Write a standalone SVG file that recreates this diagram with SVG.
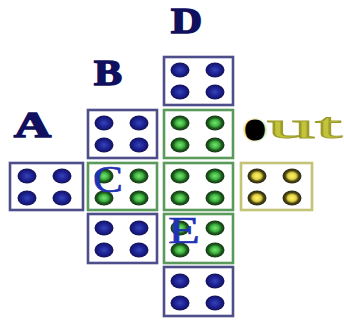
<svg xmlns="http://www.w3.org/2000/svg" xmlns:xlink="http://www.w3.org/1999/xlink" width="344" height="322" viewBox="0 0 344 322">
<style>
.box{fill:#fff;stroke-width:2.6}
.bb{stroke:#4e4e8a}
.gb{stroke:#5a9a5a}
.yb{stroke:#c4c478}
.big{font-family:"Liberation Serif",serif;font-weight:bold;font-size:36px;fill:#10105e;stroke:#10105e;stroke-width:1.6}
.lbl{font-family:"Liberation Serif",serif;font-size:37px;fill:#2232b4;stroke:#2232b4;stroke-width:0.5}
.out{font-family:"Liberation Serif",serif;font-size:36px;fill:#c4c43a;stroke:#9c9c2c;stroke-width:1}
</style>
<defs>
<radialGradient id="gBlue"><stop offset="0" stop-color="#3444b8"/><stop offset="0.6" stop-color="#1c2090"/><stop offset="1" stop-color="#121258"/></radialGradient>
<radialGradient id="gGreen"><stop offset="0" stop-color="#7ae07a"/><stop offset="0.45" stop-color="#3cb43c"/><stop offset="0.72" stop-color="#1e5a1e"/><stop offset="1" stop-color="#143614"/></radialGradient>
<radialGradient id="gYellow"><stop offset="0" stop-color="#fff46a"/><stop offset="0.45" stop-color="#e0d040"/><stop offset="0.72" stop-color="#4a4414"/><stop offset="1" stop-color="#2a2810"/></radialGradient>
<radialGradient id="gRim"><stop offset="0.7" stop-color="#d4d460"/><stop offset="1" stop-color="#d4d460" stop-opacity="0"/></radialGradient>
<g id="dBlue" fill="url(#gBlue)"><ellipse cx="16" cy="13" rx="9.5" ry="7.5"/><ellipse cx="51" cy="13" rx="9.5" ry="7.5"/><ellipse cx="16" cy="35" rx="9.5" ry="7.5"/><ellipse cx="51" cy="35" rx="9.5" ry="7.5"/></g>
<g id="dGreen" fill="url(#gGreen)"><ellipse cx="16" cy="13" rx="9.5" ry="7.5"/><ellipse cx="51" cy="13" rx="9.5" ry="7.5"/><ellipse cx="16" cy="35" rx="9.5" ry="7.5"/><ellipse cx="51" cy="35" rx="9.5" ry="7.5"/></g>
<g id="dYellow" fill="url(#gYellow)"><ellipse cx="16" cy="13" rx="9.5" ry="7.5"/><ellipse cx="51" cy="13" rx="9.5" ry="7.5"/><ellipse cx="16" cy="35" rx="9.5" ry="7.5"/><ellipse cx="51" cy="35" rx="9.5" ry="7.5"/></g>
</defs>
<rect width="344" height="322" fill="#fff"/>
<g id="box-top"><rect class="box bb" x="164" y="57" width="69" height="48"/><use href="#dBlue" x="164" y="57"/></g>
<g id="box-r2-left"><rect class="box bb" x="88" y="110" width="69" height="48"/><use href="#dBlue" x="88" y="110"/></g>
<g id="box-r2-mid"><rect class="box gb" x="164" y="110" width="69" height="48"/><use href="#dGreen" x="164" y="110"/></g>
<g id="box-r3-far"><rect class="box bb" x="10" y="163" width="73" height="47"/><use href="#dBlue" x="11" y="163"/></g>
<g id="box-r3-left"><rect class="box gb" x="88" y="163" width="69" height="47"/><use href="#dGreen" x="88" y="163"/></g>
<g id="box-r3-mid"><rect class="box gb" x="164" y="163" width="69" height="47"/><use href="#dGreen" x="164" y="163"/></g>
<g id="box-r3-right"><rect class="box yb" x="241" y="163" width="71" height="47"/><use href="#dYellow" x="241" y="163"/></g>
<g id="box-r4-left"><rect class="box bb" x="88" y="214" width="69" height="49"/><use href="#dBlue" x="88" y="215"/></g>
<g id="box-r4-mid"><rect class="box gb" x="164" y="214" width="69" height="49"/><use href="#dGreen" x="164" y="215"/></g>
<g id="box-bottom"><rect class="box bb" x="164" y="267" width="69" height="49"/><use href="#dBlue" x="164" y="268"/></g>
<g id="labels">
<text class="big" x="171" y="33" textLength="31" lengthAdjust="spacingAndGlyphs">D</text>
<text class="big" x="94" y="85" textLength="28" lengthAdjust="spacingAndGlyphs">B</text>
<text class="big" x="14" y="137" textLength="37" lengthAdjust="spacingAndGlyphs" fill="#1616a0" stroke="#1616a0">A</text>
<text class="lbl" x="93" y="192" textLength="30" lengthAdjust="spacingAndGlyphs">C</text>
<text class="lbl" x="168" y="243" textLength="32" lengthAdjust="spacingAndGlyphs">E</text>
<ellipse cx="255" cy="130" rx="13" ry="12.5" fill="url(#gRim)"/>
<text class="out" y="138"><tspan x="246.5" font-size="34" font-weight="bold" fill="#000" stroke="#000" stroke-width="5" stroke-linejoin="round">o</tspan><tspan x="267" textLength="75" lengthAdjust="spacingAndGlyphs">ut</tspan></text>
</g>
</svg>
